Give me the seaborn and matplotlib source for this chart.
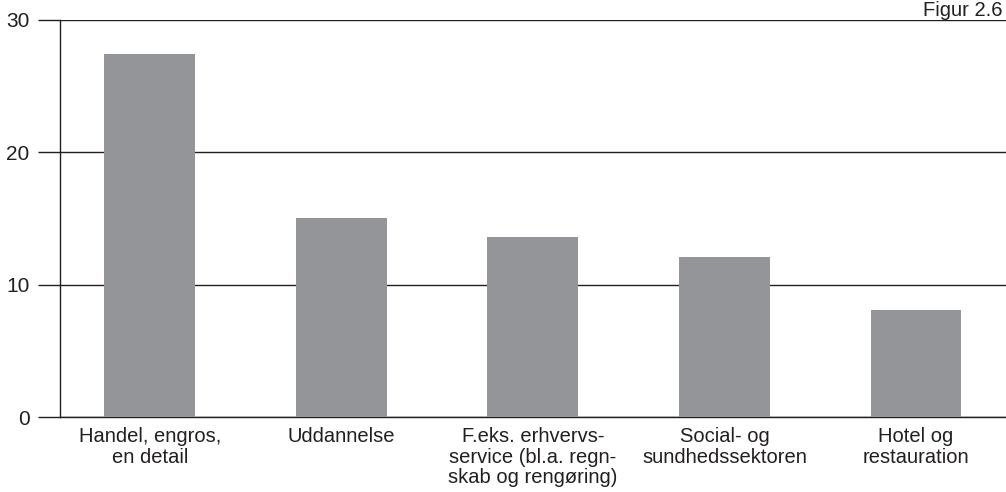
import matplotlib
matplotlib.use("Agg")
import matplotlib.pyplot as plt
import seaborn as sns
import pandas as pd

categories = [
    "Handel, engros,\nen detail",
    "Uddannelse",
    "F.eks. erhvervs-\nservice (bl.a. regn-\nskab og rengøring)",
    "Social- og\nsundhedssektoren",
    "Hotel og\nrestauration",
]
values = [27.4, 15.0, 13.6, 12.1, 8.1]
yticks = [0, 10, 20, 30]

df = pd.DataFrame({"sektor": categories, "andel": values})

sns.set_theme(style="white")
plt.rcParams["font.family"] = ["Liberation Sans", "DejaVu Sans"]

fig = plt.figure(figsize=(10.06, 4.92), dpi=100)
ax = fig.add_axes([0.0596, 0.1524, 0.9404, 0.807])

sns.barplot(data=df, x="sektor", y="andel", color="#939598",
            width=0.475, saturation=1, linewidth=0, ax=ax, zorder=3)

ax.set_ylim(0, 30)
ax.set_xlim(-0.47, 4.47)
ax.set_yticks(yticks)
ax.set_yticklabels([str(t) for t in yticks], fontsize=15, color="#231f20")
ax.yaxis.grid(True, color="#231f20", linewidth=1.0, zorder=1)
ax.tick_params(axis="y", length=16, width=1.0, color="#231f20", pad=6, left=True)
ax.tick_params(axis="x", length=0, pad=7, labelsize=14.5, labelcolor="#231f20")
for lbl in ax.get_xticklabels():
    lbl.set_linespacing(1.12)
ax.set_xlabel("")
ax.set_ylabel("")

for side in ["top", "right"]:
    ax.spines[side].set_visible(False)
for side in ["left", "bottom"]:
    ax.spines[side].set_color("#231f20")
    ax.spines[side].set_linewidth(1.0)

fig.text(0.997, 0.998, "Figur 2.6", ha="right", va="top", fontsize=14.5,
         color="#231f20")

fig.savefig("out.png", dpi=100)
